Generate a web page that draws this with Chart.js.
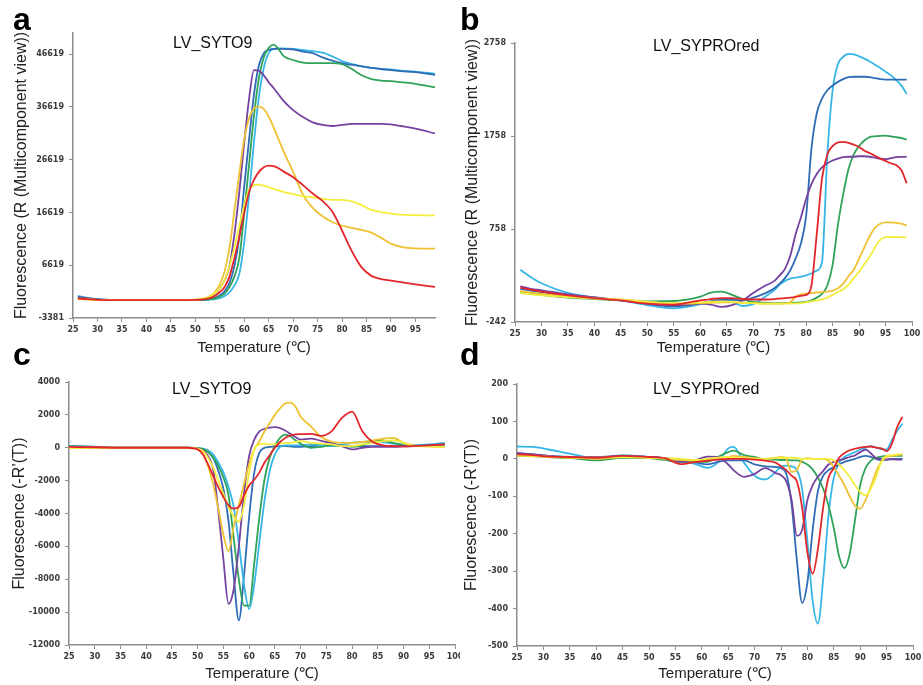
<!DOCTYPE html>
<html>
<head>
<meta charset="utf-8">
<script src="https://cdn.jsdelivr.net/npm/chart.js@4.4.1/dist/chart.umd.min.js"></script>
<style>
  body { margin: 0; background: #fff; }
  #fig { position: relative; width: 923px; height: 685px; overflow: hidden; }
  #fig canvas { position: absolute; }
  .letter { position: absolute; font: bold 32px "Liberation Sans", Arial, sans-serif; line-height: 1; color: #000; }
  .inner-title { position: absolute; font: 16px "Liberation Sans", Arial, sans-serif; line-height: 1; color: #111; white-space: nowrap; }
</style>
</head>
<body>
<div id="fig">
  <canvas id="chartA" width="460" height="362" style="left:0;top:0"></canvas>
  <canvas id="chartB" width="463" height="362" style="left:460px;top:0"></canvas>
  <canvas id="chartC" width="460" height="323" style="left:0;top:362px"></canvas>
  <canvas id="chartD" width="463" height="323" style="left:460px;top:362px"></canvas>

  <div class="letter" style="left:13px;top:3px">a</div>
  <div class="letter" style="left:460px;top:3px">b</div>
  <div class="letter" style="left:13px;top:338px">c</div>
  <div class="letter" style="left:460px;top:338px">d</div>

  <div class="inner-title" style="left:173px;top:35px">LV_SYTO9</div>
  <div class="inner-title" style="left:653px;top:38px">LV_SYPROred</div>
  <div class="inner-title" style="left:172px;top:381px">LV_SYTO9</div>
  <div class="inner-title" style="left:653px;top:381px">LV_SYPROred</div>
</div>
<script>
// ---- panel a : SYTO9 raw fluorescence ----
const tempA = [26, 28, 30, 35, 40, 45, 50, 52, 53, 54, 55, 56, 57, 58, 59, 60, 61, 62, 63, 64, 65, 66, 67, 68, 70, 72, 74, 76, 78, 80, 81, 82, 83, 84, 86, 88, 90, 92, 95, 99];
const aCyan   = [800, 450, 200, 0, 0, 0, 0, 50, 100, 200, 400, 800, 1500, 2800, 5000, 11000, 20000, 30000, 38500, 44000, 46800, 47600, 47700, 47700, 47600, 47400, 47200, 46900, 46200, 45300, 45000, 44700, 44500, 44300, 44000, 43800, 43700, 43500, 43300, 42900];
const aBlue   = [600, 400, 150, 0, 0, 0, 0, 100, 200, 450, 900, 1700, 3300, 6500, 12000, 21500, 30500, 39000, 44500, 46800, 47400, 47600, 47600, 47600, 47500, 47100, 46800, 46000, 45400, 44900, 44700, 44600, 44500, 44300, 44000, 43800, 43600, 43400, 43200, 42700];
const aGreen  = [400, 250, 100, 0, 0, 0, 0, 50, 150, 300, 700, 1300, 2500, 4500, 8000, 16500, 25800, 35000, 42000, 46000, 47800, 48400, 47600, 46300, 45500, 45000, 44900, 44900, 44900, 44700, 44300, 43800, 43200, 42600, 41900, 41600, 41500, 41300, 41000, 40300];
const aPurple = [500, 300, 100, 0, 0, 0, 50, 300, 600, 1200, 2200, 3800, 6500, 12500, 20500, 29800, 38200, 43600, 43500, 42600, 41300, 40200, 39000, 37800, 36000, 34700, 33700, 33200, 33000, 33200, 33300, 33400, 33400, 33400, 33400, 33400, 33300, 33000, 32500, 31600];
const aGold   = [300, 200, 50, 0, 0, 0, 100, 400, 800, 1500, 3000, 5500, 10000, 17000, 24000, 30500, 34500, 36300, 36700, 36200, 34800, 32800, 30500, 28300, 24300, 20000, 17500, 15900, 14800, 14100, 13900, 13700, 13500, 13300, 12800, 11800, 10700, 10100, 9800, 9750];
const aYellow = [200, 100, 0, 0, 0, 0, 100, 400, 700, 1300, 2200, 3800, 6500, 10000, 14000, 18000, 21000, 21800, 21900, 21700, 21400, 21100, 20800, 20500, 20100, 19700, 19500, 19200, 19000, 19000, 18900, 18700, 18400, 18000, 17100, 16700, 16400, 16200, 16100, 16050];
const aRed    = [300, 200, 50, 0, 0, 0, 50, 200, 400, 800, 1500, 2500, 4500, 8000, 12000, 16500, 20500, 22800, 24300, 25200, 25500, 25400, 25000, 24400, 23300, 21800, 20200, 18800, 16800, 13200, 11200, 9300, 7600, 6200, 4600, 4000, 3700, 3400, 3000, 2500];
const aXTicks = [25, 30, 35, 40, 45, 50, 55, 60, 65, 70, 75, 80, 85, 90, 95];
const aYTicks = [-3381, 6619, 16619, 26619, 36619, 46619];

// ---- panel b : SYPRO red raw fluorescence ----
const tempB = [26, 28, 30, 35, 40, 45, 50, 55, 58, 60, 62, 64, 66, 68, 70, 72, 74, 75, 76, 77, 78, 79, 80, 81, 82, 83, 84, 85, 86, 87, 88, 89, 90, 91, 92, 93, 94, 95, 96, 97, 98, 99];
const bCyan   = [320, 240, 175, 70, 20, -10, -60, -95, -75, -50, -20, -5, -25, -70, -50, 20, 100, 160, 200, 225, 235, 245, 260, 280, 310, 400, 1550, 2250, 2530, 2610, 2640, 2635, 2615, 2590, 2560, 2525, 2490, 2450, 2410, 2360, 2300, 2210];
const bBlue   = [115, 95, 80, 40, 15, -10, -45, -75, -60, -40, -20, -5, -5, -10, 20, 60, 120, 170, 230, 315, 440, 600, 900, 1620, 2000, 2160, 2250, 2300, 2340, 2370, 2390, 2395, 2395, 2395, 2390, 2380, 2370, 2365, 2365, 2365, 2365, 2365];
const bRed    = [128, 105, 85, 45, 15, -10, -45, -55, -30, -10, 5, 15, 15, 5, 0, 0, 5, 10, 15, 20, 28, 40, 50, 150, 700, 1300, 1560, 1650, 1690, 1695, 1685, 1665, 1640, 1600, 1575, 1545, 1515, 1490, 1465, 1445, 1390, 1250];
const bPurple = [142, 115, 99, 55, 25, -10, -45, -63, -55, -45, -55, -80, -60, -10, 70, 140, 200, 260, 330, 470, 700, 880, 1080, 1240, 1350, 1420, 1465, 1495, 1515, 1530, 1535, 1535, 1540, 1540, 1535, 1525, 1515, 1510, 1520, 1530, 1533, 1533];
const bGreen  = [81, 65, 50, 20, 5, -8, -20, -16, 5, 30, 75, 85, 50, 5, -25, -35, -38, -38, -37, -36, -35, -32, -25, -10, 20, 60, 150, 370, 800, 1130, 1400, 1560, 1650, 1710, 1745, 1755, 1760, 1762, 1755, 1745, 1735, 1720];
const bGold   = [90, 75, 60, 35, 15, 0, -25, -45, -45, -40, -35, -30, -30, -35, -40, -45, -45, -45, -40, -30, 30, 55, 65, 70, 75, 80, 85, 95, 120, 170, 250, 320, 440, 560, 680, 770, 815, 830, 830, 825, 815, 795];
const bYellow = [70, 55, 45, 25, 10, -5, -25, -40, -35, -30, -25, -20, -25, -35, -40, -45, -45, -45, -45, -44, -42, -38, -30, -20, -10, 0, 20, 50, 80, 110, 160, 230, 300, 380, 460, 560, 640, 670, 672, 672, 670, 668];
const bXTicks = [25, 30, 35, 40, 45, 50, 55, 60, 65, 70, 75, 80, 85, 90, 95, 100];
const bYTicks = [-242, 758, 1758, 2758];

// ---- panel c : SYTO9 derivative ----
const tempC = [25, 30, 35, 40, 45, 48, 50, 51, 52, 53, 54, 55, 56, 57, 58, 59, 60, 61, 62, 63, 64, 65, 66, 67, 68, 69, 70, 72, 74, 76, 78, 80, 82, 84, 86, 88, 90, 92, 95, 98];
const cCyan   = [100, 60, 0, 0, 0, 0, -20, -60, -150, -400, -900, -1500, -2400, -3600, -5800, -8300, -9800, -8300, -5700, -3200, -1400, -400, 50, 150, 150, 150, 150, 200, 150, 100, 200, 300, 350, 400, 350, 250, 200, 150, 200, 300];
const cBlue   = [100, 50, 0, 0, 0, 0, -20, -80, -250, -600, -1400, -2500, -4500, -7800, -10500, -7800, -4200, -1500, -300, 0, 50, 80, 100, 100, 80, 60, 50, 100, 150, 150, 150, 100, 100, 100, 100, 100, 120, 150, 150, 200];
const cGreen  = [80, 50, 0, 0, 0, 0, -20, -80, -250, -600, -1100, -1800, -2900, -5500, -8000, -9600, -9600, -7000, -4200, -1900, -600, 100, 600, 800, 700, 450, 250, 0, 50, 150, 100, 50, 150, 400, 450, 300, 150, 100, 150, 200];
const cPurple = [50, 50, 0, 0, 0, 0, -50, -150, -500, -1300, -3800, -6800, -9500, -8600, -6000, -2800, -500, 500, 1000, 1150, 1230, 1250, 1200, 1050, 850, 650, 500, 550, 420, 280, 100, -100, 0, 50, 50, 50, 80, 100, 150, 200];
const cGold   = [0, 0, 0, 0, 0, 0, -100, -400, -1100, -2200, -3700, -5300, -6300, -4800, -3500, -2200, -1000, -100, 400, 1000, 1500, 2000, 2400, 2700, 2750, 2500, 1900, 1300, 650, 380, 300, 300, 350, 450, 550, 600, 300, 150, 80, 50];
const cYellow = [0, 0, 0, 0, 0, 0, -50, -200, -600, -1200, -2000, -2800, -3600, -4200, -4500, -3500, -1500, -100, 200, 250, 200, 200, 250, 300, 300, 350, 400, 300, 250, 200, 100, 100, 200, 300, 400, 450, 300, 100, 80, 50];
const cRed    = [50, 30, 0, 0, 0, 0, -100, -400, -1000, -1700, -2400, -3000, -3500, -3700, -3600, -2900, -2300, -1950, -1500, -900, -450, 0, 350, 600, 750, 820, 830, 840, 720, 1000, 1800, 2200, 1000, 350, 150, 100, 80, 100, 150, 200];
const cXTicks = [25, 30, 35, 40, 45, 50, 55, 60, 65, 70, 75, 80, 85, 90, 95, 100];
const cYTicks = [-12000, -10000, -8000, -6000, -4000, -2000, 0, 2000, 4000];

// ---- panel d : SYPRO red derivative ----
const tempD = [25, 28, 31, 35, 40, 45, 50, 53, 56, 59, 61, 63, 65, 66, 68, 70, 72, 74, 75, 76, 77, 78, 79, 80, 81, 82, 83, 84, 85, 86, 87, 88, 89, 90, 91, 92, 93, 94, 95, 96, 97, 98];
const dCyan   = [33, 32, 25, 14, 2, 10, 5, 2, -5, -15, -24, -10, 28, 32, -10, -45, -55, -35, -20, -18, -20, -30, -80, -220, -380, -440, -320, -150, -50, -10, 5, 12, 18, 25, 30, 34, 30, 26, 25, 50, 75, 94];
const dBlue   = [14, 12, 8, 5, 3, 6, 5, 2, -3, -10, -15, -8, -4, -4, -4, -15, -20, -22, -25, -40, -120, -270, -385, -330, -190, -85, -45, -30, -22, -15, -8, -4, 0, 5, 8, 5, 0, -4, -2, 0, 0, 0];
const dRed    = [12, 10, 6, 5, 3, 8, 5, 2, -14, -8, -5, -2, 0, 0, 0, -2, -5, -10, -20, -30, -45, -60, -130, -250, -307, -240, -128, -50, -25, 3, 15, 23, 27, 30, 32, 33, 30, 28, 21, 40, 85, 112];
const dPurple = [16, 12, 8, 5, 5, 8, 5, 2, -8, -3, 6, 5, -15, -30, -48, -40, -25, -38, -44, -60, -110, -205, -190, -110, -70, -48, -32, -15, -8, -4, 0, 5, 9, 18, 25, 15, 2, 0, -2, -1, -2, -2];
const dGreen  = [9, 8, 5, 2, -4, 3, 2, -3, -8, -8, -8, 5, 18, 22, 10, 5, -2, -2, -3, -3, -4, -4, -8, -15, -28, -50, -80, -125, -185, -260, -292, -255, -165, -70, -25, -5, 3, 6, 8, 8, 8, 8];
const dGold   = [8, 7, 5, 3, 0, 5, 3, 0, -3, -5, -3, 0, 5, 8, 5, 2, 0, 3, 5, 0, -35, -30, -2, 2, 0, 0, 0, -5, -22, -45, -70, -100, -125, -133, -110, -75, -35, -8, 5, 8, 10, 12];
const dYellow = [10, 8, 6, 4, 3, 5, 3, 2, 0, -3, 0, 3, 5, 3, 2, 0, 0, 2, 3, 3, 3, 2, 0, 0, 0, 0, 0, 0, -4, -15, -30, -48, -70, -88, -97, -80, -48, -8, 8, 10, 12, 12];
const dXTicks = [25, 30, 35, 40, 45, 50, 55, 60, 65, 70, 75, 80, 85, 90, 95, 100];
const dYTicks = [-500, -400, -300, -200, -100, 0, 100, 200];

const COL = {
    cyan: '#37b6e6', blue: '#2f6cb5', green: '#2fa35a', purple: '#7443a0',
    gold: '#efc233', yellow: '#f3ee3e', red: '#e2262b'
};
const AXIS_COLOR = '#8c8c8c';
const TEXT_FONT = '"Liberation Sans", Arial, sans-serif';

function lineSet(temps, values, color) {
    return {
        data: temps.map((t, i) => ({ x: t, y: values[i] })),
        borderColor: color,
        borderWidth: 1.8,
        pointRadius: 0,
        fill: false,
        cubicInterpolationMode: 'monotone'
    };
}

function fixedTicks(list) {
    return scale => { scale.ticks = list.map(v => ({ value: v })); };
}

function makePanel(canvasId, p) {
    const cv = document.getElementById(canvasId);
    const W = cv.width, H = cv.height;
    const tickFont = { family: 'DejaVu Sans', size: 8, weight: 'bold' };

    return new Chart(cv, {
        type: 'line',
        data: { datasets: p.series.map(s => lineSet(p.temps, s[0], s[1])) },
        options: {
            responsive: false,
            animation: false,
            layout: { padding: { left: 0, top: p.box.top, right: W - p.box.right, bottom: 0 } },
            plugins: { legend: { display: false }, tooltip: { enabled: false } },
            scales: {
                x: {
                    type: 'linear', min: 25, max: p.xMax,
                    afterBuildTicks: fixedTicks(p.xTicks),
                    afterFit: s => { s.height = H - p.box.bottom; s.paddingLeft = 0; s.paddingRight = 0; },
                    grid: { drawOnChartArea: false, drawTicks: true, tickLength: 4, color: AXIS_COLOR },
                    border: { color: AXIS_COLOR, width: 1.5 },
                    ticks: { font: tickFont, color: '#3a3a3a', padding: 3, maxRotation: 0, autoSkip: false, callback: v => String(v) },
                    title: { display: true, text: 'Temperature (℃)', color: '#222', font: { family: TEXT_FONT, size: 15 }, padding: { top: 0, bottom: p.xTitlePad } }
                },
                y: {
                    type: 'linear', min: p.yMin, max: p.yMax,
                    afterBuildTicks: fixedTicks(p.yTicks),
                    afterFit: s => { s.width = p.box.left; s.paddingTop = 0; s.paddingBottom = 0; },
                    grid: { drawOnChartArea: false, drawTicks: true, tickLength: 4, color: AXIS_COLOR },
                    border: { color: AXIS_COLOR, width: 1.5 },
                    ticks: { font: tickFont, color: '#3a3a3a', padding: 5, autoSkip: false, callback: v => String(v) },
                    title: { display: true, text: p.yTitle, color: '#222', font: { family: TEXT_FONT, size: 16 }, padding: { top: p.yTitlePad, bottom: 0 } }
                }
            }
        }
    });
}

const rawTitle = 'Fluorescence (R (Multicomponent view))';
const derivTitle = 'Fluorescence (-R\u2019(T))';

makePanel('chartA', {
    temps: tempA, xMax: 99, yMin: -3381, yMax: 50619, xTicks: aXTicks, yTicks: aYTicks,
    box: { left: 73, right: 435, top: 33, bottom: 318 }, yTitle: rawTitle, yTitlePad: 12, xTitlePad: 5,
    series: [[aRed, COL.red], [aYellow, COL.yellow], [aGold, COL.gold], [aPurple, COL.purple],
             [aGreen, COL.green], [aBlue, COL.blue], [aCyan, COL.cyan]]
});

makePanel('chartB', {
    temps: tempB, xMax: 100, yMin: -242, yMax: 2758, xTicks: bXTicks, yTicks: bYTicks,
    box: { left: 55, right: 452, top: 43, bottom: 322 }, yTitle: rawTitle, yTitlePad: 3, xTitlePad: 5,
    series: [[bRed, COL.red], [bYellow, COL.yellow], [bGold, COL.gold], [bPurple, COL.purple],
             [bGreen, COL.green], [bBlue, COL.blue], [bCyan, COL.cyan]]
});

makePanel('chartC', {
    temps: tempC, xMax: 100, yMin: -12000, yMax: 4000, xTicks: cXTicks, yTicks: cYTicks,
    box: { left: 69, right: 455, top: 20, bottom: 283 }, yTitle: derivTitle, yTitlePad: 10, xTitlePad: 2,
    series: [[cRed, COL.red], [cYellow, COL.yellow], [cGold, COL.gold], [cPurple, COL.purple],
             [cGreen, COL.green], [cCyan, COL.cyan], [cBlue, COL.blue]]
});

makePanel('chartD', {
    temps: tempD, xMax: 100, yMin: -500, yMax: 200, xTicks: dXTicks, yTicks: dYTicks,
    box: { left: 57, right: 453, top: 22, bottom: 284 }, yTitle: derivTitle, yTitlePad: 2, xTitlePad: 2,
    series: [[dRed, COL.red], [dYellow, COL.yellow], [dGold, COL.gold], [dPurple, COL.purple],
             [dGreen, COL.green], [dBlue, COL.blue], [dCyan, COL.cyan]]
});
</script>
</body>
</html>
